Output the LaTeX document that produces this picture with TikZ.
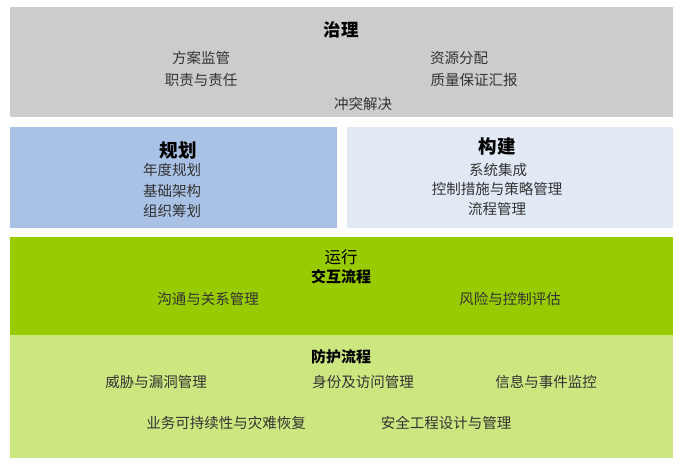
\documentclass[tikz,border=0pt]{standalone}
\usepackage{fontspec}
\setmainfont{Noto Sans CJK SC}
\definecolor{govgray}{HTML}{CCCCCC}
\definecolor{planblue}{HTML}{A9C1E5}
\definecolor{buildblue}{HTML}{E1E9F5}
\definecolor{rungreen}{HTML}{99CC00}
\definecolor{protgreen}{HTML}{CCE680}
\definecolor{txt}{HTML}{333333}
\tikzset{
  item/.style={font=\fontsize{14.5}{16}\selectfont, text=txt, inner sep=0pt},
  head/.style={font=\fontsize{17.5}{19}\selectfont\bfseries, text=black, inner sep=0pt},
  bighead/.style={font=\fontsize{18.5}{20}\selectfont\bfseries, text=black, inner sep=0pt},
  sub/.style={font=\fontsize{15}{16}\selectfont\bfseries, text=black, inner sep=0pt},
}
\begin{document}
\begin{tikzpicture}[x=1pt,y=-1pt]
\useasboundingbox[fill=white] (0,0) rectangle (684,467);
% boxes
\fill[govgray] (10,7) rectangle (673,117);
\fill[planblue] (10,127) rectangle (337,228);
\fill[buildblue] (347,127) rectangle (673,228);
\fill[rungreen] (10,237) rectangle (673,335);
\fill[protgreen] (10,335) rectangle (673,458);
% governance
\node[head] (gov) at (341,30) {治理};
\node[item] (g1) at (201,58) {方案监管};
\node[item] (g2) at (459,58) {资源分配};
\node[item] (g3) at (201,80) {职责与责任};
\node[item] (g4) at (474,80) {质量保证汇报};
\node[item] (g5) at (363,104) {冲突解决};
% plan
\node[bighead] (plan) at (178,150) {规划};
\node[item] (p1) at (172,170) {年度规划};
\node[item] (p2) at (172,191) {基础架构};
\node[item] (p3) at (172,211) {组织筹划};
% build
\node[bighead] (build) at (497,146) {构建};
\node[item] (b1) at (498,170) {系统集成};
\node[item] (b2) at (497,189) {控制措施与策略管理};
\node[item] (b3) at (497,209) {流程管理};
% run
\node[item, font=\fontsize{16.5}{18}\selectfont, text=black] (run) at (341,257) {运行};
\node[sub] (inter) at (341,277) {交互流程};
\node[item] (r1) at (208,299) {沟通与关系管理};
\node[item] (r2) at (510,299) {风险与控制评估};
% protect
\node[sub] (prot) at (341,357) {防护流程};
\node[item] (s1) at (156,382) {威胁与漏洞管理};
\node[item] (s2) at (363,382) {身份及访问管理};
\node[item] (s3) at (546,382) {信息与事件监控};
\node[item] (s4) at (226,423) {业务可持续性与灾难恢复};
\node[item] (s5) at (446,423) {安全工程设计与管理};
\end{tikzpicture}
\end{document}
